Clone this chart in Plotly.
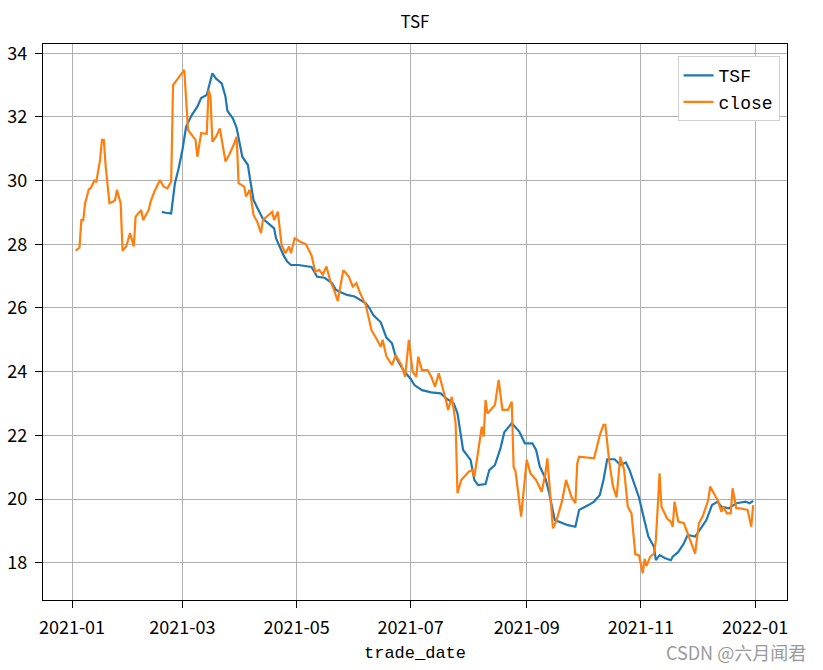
import plotly.graph_objects as go

# close price
close_dates = [
    "2021-01-03", "2021-01-05", "2021-01-06", "2021-01-07", "2021-01-08", "2021-01-09",
    "2021-01-10", "2021-01-11", "2021-01-12", "2021-01-13", "2021-01-14", "2021-01-16",
    "2021-01-17", "2021-01-18", "2021-01-19", "2021-01-21", "2021-01-23", "2021-01-24",
    "2021-01-25", "2021-01-27", "2021-01-28", "2021-01-30", "2021-02-01", "2021-02-02",
    "2021-02-03", "2021-02-04", "2021-02-06", "2021-02-07", "2021-02-08", "2021-02-11",
    "2021-02-12", "2021-02-14", "2021-02-17", "2021-02-19", "2021-02-21", "2021-02-23",
    "2021-02-24", "2021-02-26", "2021-03-01", "2021-03-02", "2021-03-04", "2021-03-08",
    "2021-03-09", "2021-03-11", "2021-03-14", "2021-03-15", "2021-03-16", "2021-03-17",
    "2021-03-19", "2021-03-21", "2021-03-24", "2021-03-26", "2021-03-28", "2021-03-30",
    "2021-03-31", "2021-04-02", "2021-04-03", "2021-04-04", "2021-04-06", "2021-04-08",
    "2021-04-10", "2021-04-12", "2021-04-13", "2021-04-16", "2021-04-18", "2021-04-19",
    "2021-04-21", "2021-04-23", "2021-04-25", "2021-04-27", "2021-04-28", "2021-04-30",
    "2021-05-03", "2021-05-06", "2021-05-09", "2021-05-11", "2021-05-13", "2021-05-15",
    "2021-05-17", "2021-05-19", "2021-05-21", "2021-05-23", "2021-05-26", "2021-05-29",
    "2021-05-31", "2021-06-02", "2021-06-04", "2021-06-07", "2021-06-08", "2021-06-10",
    "2021-06-13", "2021-06-15", "2021-06-16", "2021-06-18", "2021-06-21", "2021-06-23",
    "2021-06-26", "2021-06-28", "2021-06-30", "2021-07-02", "2021-07-04", "2021-07-05",
    "2021-07-07", "2021-07-10", "2021-07-12", "2021-07-14", "2021-07-16", "2021-07-18",
    "2021-07-20", "2021-07-21", "2021-07-23", "2021-07-25", "2021-07-26", "2021-07-28",
    "2021-08-01", "2021-08-03", "2021-08-04", "2021-08-08", "2021-08-09", "2021-08-10",
    "2021-08-11", "2021-08-15", "2021-08-17", "2021-08-19", "2021-08-22", "2021-08-24",
    "2021-08-25", "2021-08-26", "2021-08-29", "2021-09-01", "2021-09-03", "2021-09-06",
    "2021-09-09", "2021-09-11", "2021-09-12", "2021-09-15", "2021-09-17", "2021-09-20",
    "2021-09-22", "2021-09-25", "2021-09-27", "2021-09-28", "2021-09-29", "2021-10-07",
    "2021-10-10", "2021-10-12", "2021-10-13", "2021-10-15", "2021-10-17", "2021-10-19",
    "2021-10-21", "2021-10-23", "2021-10-25", "2021-10-27", "2021-10-29", "2021-10-31",
    "2021-11-02", "2021-11-03", "2021-11-04", "2021-11-06", "2021-11-08", "2021-11-09",
    "2021-11-11", "2021-11-12", "2021-11-15", "2021-11-17", "2021-11-18", "2021-11-19",
    "2021-11-21", "2021-11-24", "2021-11-26", "2021-11-30", "2021-12-02", "2021-12-04",
    "2021-12-07", "2021-12-08", "2021-12-11", "2021-12-12", "2021-12-14", "2021-12-15",
    "2021-12-17", "2021-12-19", "2021-12-20", "2021-12-22", "2021-12-24", "2021-12-28",
    "2021-12-30", "2021-12-31",
]
close = [
    27.80, 27.90, 28.76, 28.76, 29.29, 29.55,
    29.73, 29.76, 29.90, 30.00, 29.97, 30.65,
    31.28, 31.28, 30.44, 29.29, 29.34, 29.39,
    29.71, 29.29, 27.80, 27.93, 28.35, 28.14,
    27.93, 28.87, 29.02, 29.08, 28.76, 29.08,
    29.34, 29.65, 30.02, 29.81, 29.76, 29.97,
    33.00, 33.16, 33.39, 33.48, 31.59, 31.28,
    30.75, 31.49, 31.47, 32.85, 32.64, 31.22,
    31.38, 31.64, 30.60, 30.81, 31.07, 31.38,
    29.92, 29.86, 29.81, 29.50, 29.71, 28.92,
    28.71, 28.35, 28.76, 28.92, 29.02, 28.76,
    29.02, 27.98, 27.72, 27.93, 27.72, 28.19,
    28.08, 28.00, 27.65, 27.14, 27.20, 27.05,
    27.30, 26.85, 26.57, 26.22, 27.19, 26.98,
    26.67, 26.78, 26.46, 26.09, 25.83, 25.31,
    25.00, 24.78, 25.00, 24.48, 24.21, 24.52,
    24.21, 23.84, 25.00, 24.00, 23.84, 24.47,
    24.05, 24.05, 23.84, 23.53, 23.95, 23.53,
    23.06, 22.80, 23.21, 22.38, 20.18, 20.60,
    20.86, 20.91, 20.70, 22.27, 21.96, 23.11,
    22.69, 22.95, 23.74, 22.80, 22.80, 23.06,
    21.00, 20.88, 19.45, 21.23, 20.80, 20.60,
    20.23, 20.81, 21.28, 19.08, 19.34, 19.97,
    20.60, 20.05, 19.87, 21.12, 21.33, 21.28,
    22.00, 22.33, 22.33, 21.23, 20.42, 20.05,
    21.33, 20.93, 19.76, 19.55, 18.27, 18.23,
    17.67, 18.12, 17.90, 18.19, 18.29, 18.71,
    20.81, 19.76, 19.39, 19.29, 19.13, 19.92,
    19.29, 19.24, 18.92, 18.29, 19.24, 19.45,
    19.97, 20.39, 20.07, 19.97, 19.60, 19.76,
    19.55, 19.55, 20.34, 19.71, 19.71, 19.66,
    19.13, 19.81,
]

# TSF indicator
tsf_dates = [
    "2021-02-18", "2021-02-20", "2021-02-23", "2021-02-25", "2021-02-27", "2021-03-01",
    "2021-03-03", "2021-03-06", "2021-03-09", "2021-03-11", "2021-03-14", "2021-03-16",
    "2021-03-17", "2021-03-19", "2021-03-22", "2021-03-24", "2021-03-25", "2021-03-28",
    "2021-03-30", "2021-04-02", "2021-04-05", "2021-04-06", "2021-04-08", "2021-04-10",
    "2021-04-13", "2021-04-17", "2021-04-19", "2021-04-20", "2021-04-22", "2021-04-24",
    "2021-04-26", "2021-04-28", "2021-05-02", "2021-05-09", "2021-05-12", "2021-05-16",
    "2021-05-20", "2021-05-22", "2021-05-24", "2021-05-28", "2021-06-01", "2021-06-04",
    "2021-06-07", "2021-06-09", "2021-06-11", "2021-06-15", "2021-06-18", "2021-06-21",
    "2021-06-23", "2021-06-27", "2021-07-01", "2021-07-03", "2021-07-07", "2021-07-12",
    "2021-07-17", "2021-07-20", "2021-07-24", "2021-07-26", "2021-07-29", "2021-08-02",
    "2021-08-04", "2021-08-06", "2021-08-10", "2021-08-12", "2021-08-15", "2021-08-18",
    "2021-08-20", "2021-08-24", "2021-08-28", "2021-08-31", "2021-09-04", "2021-09-06",
    "2021-09-08", "2021-09-11", "2021-09-13", "2021-09-16", "2021-09-20", "2021-09-23",
    "2021-09-27", "2021-09-29", "2021-10-04", "2021-10-07", "2021-10-10", "2021-10-12",
    "2021-10-14", "2021-10-18", "2021-10-21", "2021-10-24", "2021-10-26", "2021-10-29",
    "2021-10-31", "2021-11-02", "2021-11-05", "2021-11-08", "2021-11-09", "2021-11-11",
    "2021-11-14", "2021-11-17", "2021-11-18", "2021-11-21", "2021-11-24", "2021-11-26",
    "2021-11-30", "2021-12-03", "2021-12-06", "2021-12-09", "2021-12-12", "2021-12-14",
    "2021-12-18", "2021-12-22", "2021-12-27", "2021-12-29", "2021-12-31",
]
tsf = [
    29.02, 28.99, 28.97, 29.92, 30.39, 30.96,
    31.70, 32.06, 32.32, 32.59, 32.69, 33.16,
    33.37, 33.20, 33.05, 32.64, 32.20, 31.95,
    31.65, 30.75, 30.49, 30.10, 29.39, 29.15,
    28.80, 28.60, 28.50, 28.19, 27.90, 27.66,
    27.46, 27.35, 27.35, 27.29, 26.98, 26.95,
    26.78, 26.57, 26.51, 26.41, 26.36, 26.25,
    26.15, 25.99, 25.78, 25.55, 25.07, 24.89,
    24.47, 24.05, 23.77, 23.58, 23.42, 23.35,
    23.32, 23.16, 23.00, 22.69, 21.54, 21.23,
    20.60, 20.44, 20.47, 20.91, 21.07, 21.60,
    22.10, 22.38, 22.12, 21.75, 21.75, 21.54,
    21.02, 20.65, 20.18, 19.34, 19.26, 19.18,
    19.13, 19.66, 19.81, 19.92, 20.12, 20.60,
    21.25, 21.25, 21.07, 21.15, 20.90, 20.35,
    20.05, 19.55, 18.82, 18.50, 18.08, 18.24,
    18.14, 18.08, 18.19, 18.34, 18.61, 18.87,
    18.82, 19.08, 19.34, 19.81, 19.92, 19.76,
    19.71, 19.87, 19.92, 19.87, 19.94,
]

font = "Noto Sans CJK SC"
mono = "Liberation Mono"

fig = go.Figure()
fig.add_trace(go.Scatter(x=tsf_dates, y=tsf, mode="lines", name="TSF",
                         line=dict(color="#1f77b4", width=2.2)))
fig.add_trace(go.Scatter(x=close_dates, y=close, mode="lines", name="close",
                         line=dict(color="#ff7f0e", width=2.2)))

axis_style = dict(showline=True, mirror=True, linecolor="black", linewidth=1.2,
                  showgrid=True, gridcolor="#b0b0b0", gridwidth=1, zeroline=False,
                  ticks="outside", ticklen=7, tickcolor="black", automargin=False,
                  ticklabelstandoff=4,
                  tickfont=dict(family=font, size=18, color="black"))

fig.update_layout(
    width=823, height=670,
    margin=dict(l=43, r=36, t=44, b=70),
    paper_bgcolor="white", plot_bgcolor="white",
    title=dict(text="TSF", x=0.5, xref="paper", y=0.967, yanchor="middle",
               font=dict(family=font, size=17, color="black"), automargin=False),
    legend=dict(x=0.99, xanchor="right", y=0.978, yanchor="top",
                bordercolor="#d0d0d0", borderwidth=1, bgcolor="white",
                font=dict(family=mono, size=18, color="black")),
    xaxis=dict(axis_style, type="date", range=["2020-12-16 12:00", "2022-01-18 02:00"],
               tick0="2021-01-01", dtick="M2", tickformat="%Y-%m",
               title=dict(text="trade_date", standoff=8,
                          font=dict(family=mono, size=17, color="black"))),
    yaxis=dict(axis_style, range=[16.83, 34.29], tick0=18, dtick=2),
    annotations=[dict(text="CSDN @六月闻君", xref="paper", yref="paper",
                      x=1.028, y=-0.0935, xanchor="right", yanchor="middle",
                      showarrow=False, font=dict(family=font, size=18, color="#9a9a9a"))],
)

# page body has an 8px default margin; drop it so the figure sits at (0, 0)
fig.write_html("out.html", config={"displayModeBar": False},
               post_script="document.body.style.margin='0';")
